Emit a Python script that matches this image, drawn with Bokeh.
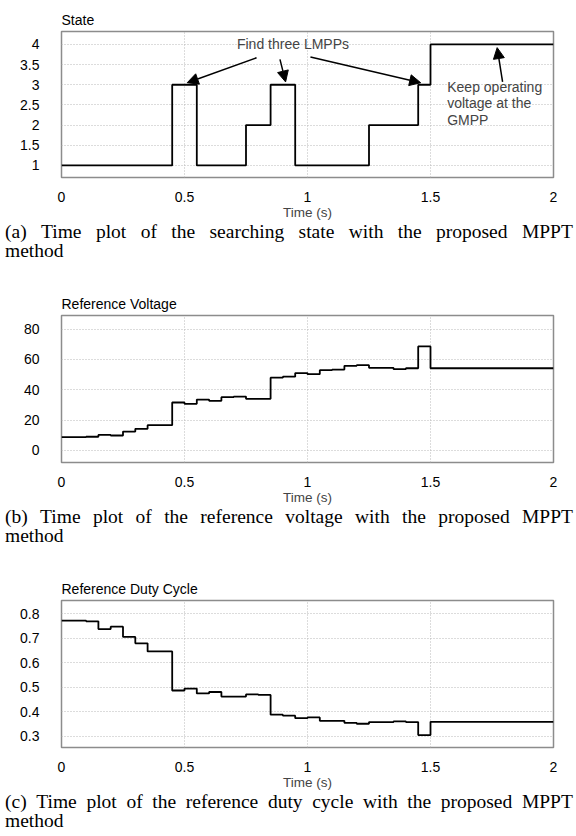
from bokeh.plotting import figure
from bokeh.layouts import column
from bokeh.models import (Range1d, FixedTicker, NumeralTickFormatter, Div,
                          Arrow, NormalHead, Label)
from bokeh.embed import file_html
from bokeh.resources import INLINE

# ---------------- data ----------------
time_ticks = [0, 0.5, 1, 1.5, 2]

state_t = [0, 0.45, 0.55, 0.75, 0.85, 0.95, 1.25, 1.45, 1.5, 2.0]
state_v = [1, 3, 1, 2, 3, 1, 2, 3, 4]
state_ticks = [1, 1.5, 2, 2.5, 3, 3.5, 4]

volt_t = [0, 0.1, 0.15, 0.2, 0.25, 0.3, 0.35, 0.45, 0.5, 0.55, 0.6, 0.65, 0.7,
          0.75, 0.85, 0.9, 0.95, 1.0, 1.05, 1.1, 1.15, 1.2, 1.25, 1.3, 1.35,
          1.4, 1.45, 1.5, 2.0]
volt_v = [8.7, 9.0, 10.2, 9.8, 12.4, 14.2, 16.6, 31.6, 30.7, 33.5, 32.7, 35.1,
          35.5, 34.0, 48.0, 48.6, 51.0, 50.3, 52.9, 53.3, 55.8, 56.2, 54.5,
          54.4, 53.6, 54.2, 68.6, 54.2]
volt_ticks = [0, 20, 40, 60, 80]

duty_t = [0, 0.1, 0.15, 0.2, 0.25, 0.3, 0.35, 0.45, 0.5, 0.55, 0.6, 0.65, 0.75,
          0.8, 0.85, 0.9, 0.95, 1.0, 1.05, 1.15, 1.2, 1.25, 1.35, 1.4, 1.45,
          1.5, 2.0]
duty_v = [0.772, 0.769, 0.737, 0.747, 0.705, 0.679, 0.646, 0.486, 0.494, 0.474,
          0.480, 0.461, 0.470, 0.468, 0.387, 0.383, 0.373, 0.376, 0.362, 0.354,
          0.350, 0.357, 0.360, 0.357, 0.304, 0.358]
duty_ticks = [0.3, 0.4, 0.5, 0.6, 0.7, 0.8]

captions = [
    ("(a) Time plot of the searching state with the proposed MPPT", "method"),
    ("(b) Time plot of the reference voltage with the proposed MPPT", "method"),
    ("(c) Time plot of the reference duty cycle with the proposed MPPT", "method"),
]

SANS = "Liberation Sans"
SERIF = "Liberation Serif"


def make_panel(title, t, v, yticks, yrange, left, top, frame_h):
    bottom = 44
    p = figure(width=576, height=top + frame_h + bottom, title=title,
               x_range=Range1d(0, 2), y_range=Range1d(*yrange),
               output_backend="svg", toolbar_location=None,
               min_border_left=left, min_border_right=23,
               min_border_top=top, min_border_bottom=bottom)
    p.title.text_font = SANS
    p.title.text_font_size = "14px"
    p.title.text_font_style = "normal"
    p.title.text_color = "black"
    p.title.align = "left"
    p.title.offset = 0
    p.title.standoff = 8
    p.outline_line_color = "#8c8c8c"
    p.outline_line_width = 1.5
    p.background_fill_color = "white"
    p.border_fill_color = "white"

    for ax in (p.xaxis[0], p.yaxis[0]):
        ax.axis_line_color = None
        ax.major_tick_line_color = None
        ax.minor_tick_line_color = None
        ax.major_label_text_font = SANS
        ax.major_label_text_font_size = "14px"
        ax.major_label_text_color = "black"
    p.xaxis.ticker = FixedTicker(ticks=time_ticks)
    p.xaxis.formatter = NumeralTickFormatter(format="0.[0]")
    p.xaxis.major_label_standoff = 8
    p.xaxis.axis_label = "Time (s)"
    p.xaxis.axis_label_text_font = SANS
    p.xaxis.axis_label_text_font_size = "13.5px"
    p.xaxis.axis_label_text_font_style = "normal"
    p.xaxis.axis_label_standoff = 0
    p.yaxis.ticker = FixedTicker(ticks=yticks)
    p.yaxis.formatter = NumeralTickFormatter(format="0.[0]")
    p.yaxis.major_label_standoff = 16

    p.grid.grid_line_color = "#b8b8b8"
    p.grid.grid_line_dash = "1 2"
    p.grid.grid_line_width = 1

    p.step(t, list(v) + [v[-1]], mode="after", line_color="black",
           line_width=1.8)
    return p


def make_caption(parts):
    first, last = parts
    words = "".join("<span>" + w + "</span>" for w in first.split(" "))
    html = ('<div style="display: flex; justify-content: space-between; '
            'width: 568px;">' + words + '</div><div>' + last + '</div>')
    return Div(text=html, width=568, height=40, margin=(0, 0, 0, 5),
               styles={"font-family": SERIF, "font-size": "19.5px",
                       "line-height": "19px", "color": "black"})


pa = make_panel("State", state_t, state_v, state_ticks, (0.7, 4.32), 61, 31, 147)
pb = make_panel("Reference Voltage", volt_t, volt_v, volt_ticks, (-8, 89), 54, 53, 148)
pc = make_panel("Reference Duty Cycle", duty_t, duty_v, duty_ticks, (0.253, 0.854), 54, 53, 148)

# annotations on the state panel
head = dict(size=11, fill_color="black", line_color="black")
arrows = [((0.793, 3.67), (0.511, 3.05)),
          ((0.888, 3.63), (0.911, 3.07)),
          ((1.012, 3.69), (1.46, 3.05)),
          ((1.793, 3.07), (1.771, 3.92))]
for (x0, y0), (x1, y1) in arrows:
    pa.add_layout(Arrow(x_start=x0, y_start=y0, x_end=x1, y_end=y1,
                        line_width=1.5, line_color="black",
                        end=NormalHead(**head)))

pa.add_layout(Label(x=0.941, y=4.0, text="Find three LMPPs",
                    text_align="center", text_baseline="middle",
                    text_font=SANS, text_font_size="14px"))
for i, line in enumerate(["Keep operating", "voltage at the", "GMPP"]):
    pa.add_layout(Label(x=1.568, y=2.95, y_offset=-16.5 * i, text=line,
                        text_align="left", text_baseline="middle",
                        text_font=SANS, text_font_size="14px"))

layout = column(pa, make_caption(captions[0]),
                pb, make_caption(captions[1]),
                pc, make_caption(captions[2]), spacing=0)

open("out.html", "w").write(file_html(layout, INLINE))
